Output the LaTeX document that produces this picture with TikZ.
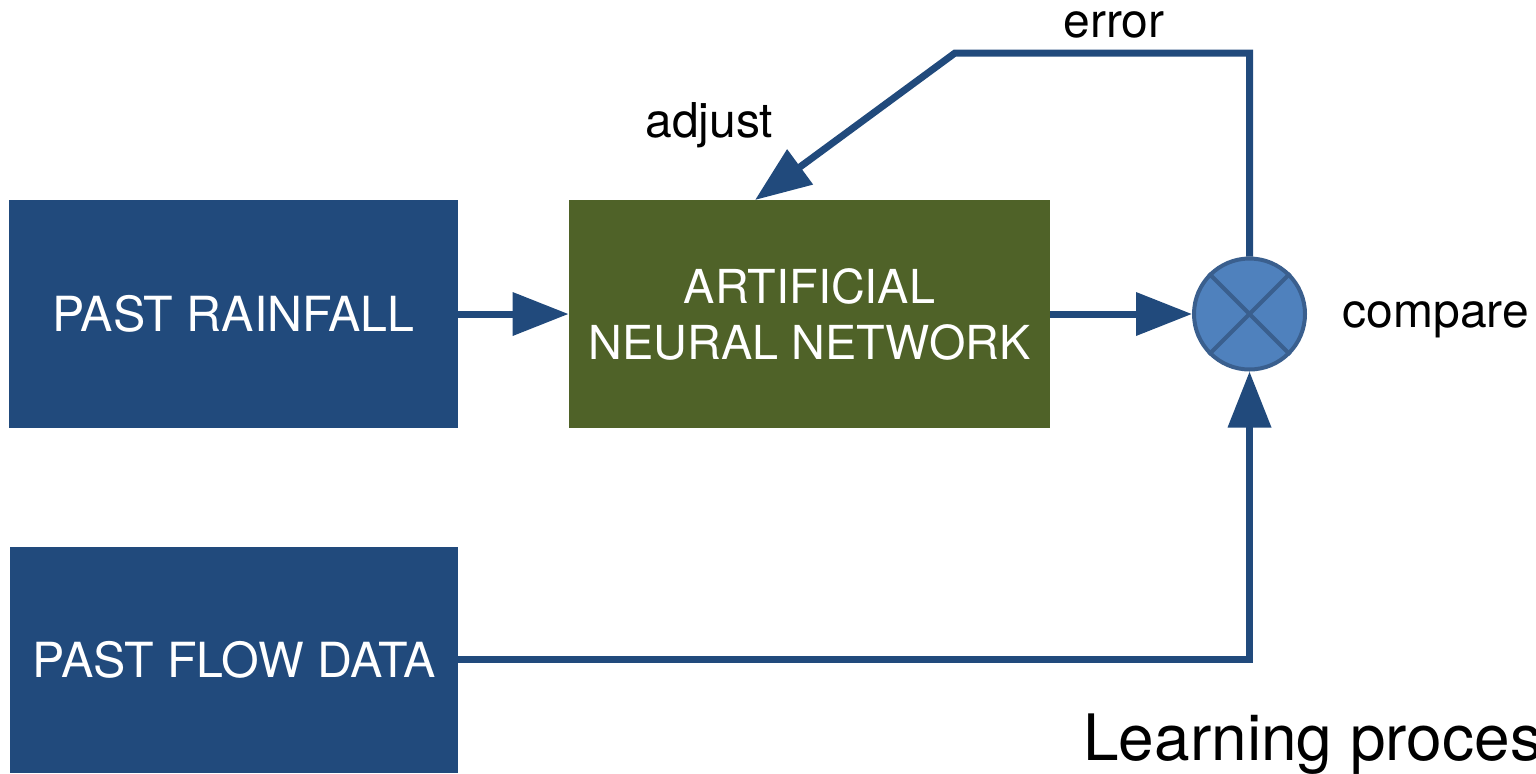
\documentclass[tikz,border=0pt]{standalone}
\usepackage{fontspec}
\setmainfont{TeX Gyre Heros}
\usetikzlibrary{arrows.meta,calc}
\definecolor{boxblue}{HTML}{214A7C}
\definecolor{anngreen}{HTML}{4F6228}
\definecolor{cmpfill}{HTML}{4F81BD}
\definecolor{cmpline}{HTML}{3A5F8E}
\begin{document}
\begin{tikzpicture}[x=0.5pt,y=-0.5pt,
  inbox/.style={draw=none,fill=boxblue,text=white,inner sep=0,
    font=\fontsize{24.2}{28}\selectfont,align=center},
  annbox/.style={draw=none,fill=anngreen,text=white,inner sep=0,
    font=\fontsize{23.4}{28}\selectfont,align=center},
  label/.style={inner sep=0,anchor=base west,font=\fontsize{24}{28}\selectfont},
  flow/.style={draw=boxblue,line width=3.5pt},
  tip/.style={-{Triangle[length=28pt,width=21pt]}}]
\useasboundingbox (0,0) rectangle (1536,773);
\clip (0,0) rectangle (1536,773);

% boxes
\node[inbox,minimum width=449*0.5pt,minimum height=228*0.5pt] (rain) at (233.5,314) {PAST RAINFALL};
\node[inbox,minimum width=448*0.5pt,minimum height=226*0.5pt] (flowdata) at (234,660) {PAST FLOW DATA};
\node[annbox,minimum width=481*0.5pt,minimum height=228*0.5pt] (ann) at (809.5,314) {ARTIFICIAL\\NEURAL NETWORK};

% comparator
\node[circle,draw=cmpline,fill=cmpfill,line width=2pt,minimum size=111*0.5pt,inner sep=0] (cmp) at (1249.5,314) {};
\draw[cmpline,line width=2pt] (cmp.45) -- (cmp.225) (cmp.135) -- (cmp.315);

% forward path
\draw[flow,tip] (rain.east) -- (ann.west);
\draw[flow,tip] (ann.east) -- (cmp.west);
\coordinate (low) at (1249.5,659);
\draw[flow,tip] (flowdata.east |- low) -- (low) -- (cmp.south);

% error feedback
\coordinate (top) at (1249.5,53);
\coordinate (bend) at (955,53);
\coordinate (adj) at (755,200);
\draw[flow,tip,line join=miter] (cmp.north) -- (top) -- (bend) -- (adj);

% labels
\node[label] (err) at (1063,37) {error};
\node[label] (adjl) at (645,137) {adjust};
\node[label] (cmpl) at (1342,327) {compare};
\node[inner sep=0,anchor=base west,font=\fontsize{32}{36}\selectfont] (learn) at (1083,760) {Learning process};
\end{tikzpicture}
\end{document}
